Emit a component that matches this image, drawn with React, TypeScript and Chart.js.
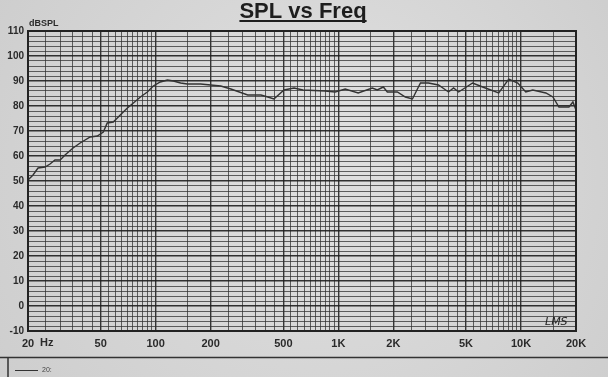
import React, { useEffect, useRef } from "react";
import { Chart, registerables } from "chart.js";

Chart.register(...registerables);

const FREQS = [20, 21.3, 22.7, 24.8, 26.4, 28.1, 30, 31.9, 35.3, 38.6, 43.8, 47.9, 51.7, 54.3, 58.6, 64, 70, 75.5, 82.5, 90, 97, 106, 116, 125, 137, 149, 176, 227, 258, 319, 377, 411, 444, 504, 572, 640, 846, 960, 1090, 1284, 1534, 1634, 1763, 1854, 2104, 2328, 2544, 2815, 3114, 3534, 4010, 4273, 4553, 5434, 6166, 7550, 8570, 9600, 10620, 11600, 13680, 14950, 16130, 18300, 19240, 20000];
const SPL = [50.4, 52.4, 55.2, 55.6, 56.8, 58.4, 58.4, 60.4, 63.2, 65.2, 67.6, 68, 69.6, 73.2, 73.6, 76.4, 79.2, 81.2, 83.6, 85.6, 88, 89.6, 90.4, 90, 89.2, 88.8, 88.8, 88, 86.8, 84.4, 84.4, 83.6, 82.8, 86.4, 87.2, 86.4, 86, 85.6, 86.8, 85.2, 87.2, 86.4, 87.6, 85.6, 85.6, 83.6, 82.8, 89.2, 89.2, 88.4, 85.6, 87.2, 85.6, 89.2, 87.6, 85.2, 90.8, 89.2, 85.6, 86.4, 85.2, 83.6, 79.6, 79.6, 81.6, 78.4];

const X_LABEL_VALUES = [20, 50, 100, 200, 500, 1000, 2000, 5000, 10000, 20000];
const X_LABEL_TEXT = ["20", "50", "100", "200", "500", "1K", "2K", "5K", "10K", "20K"];
const GRID_MULTIPLIERS = [1, 1.5, 2, 2.5, 3, 3.5, 4, 4.5, 5, 5.5, 6, 6.5, 7, 7.5, 8, 8.5, 9, 9.5];
const DECADES = [10, 100, 1000, 10000];
const TITLE = "SPL vs Freq";
const Y_UNIT = "dBSPL";
const X_UNIT = "Hz";
const LEGEND_TEXT = "20:";
const MARK_TEXT = "LMS";

const GRID_FREQS: number[] = [];
DECADES.forEach((d) => GRID_MULTIPLIERS.forEach((m) => {
  const v = Math.round(d * m * 1000) / 1000;
  if (v >= 20 && v <= 20000) GRID_FREQS.push(v);
}));
if (!GRID_FREQS.includes(20000)) GRID_FREQS.push(20000);

const INK = "#2a2a2a";

const decor = {
  id: "decor",
  beforeDraw(chart: any) {
    const { ctx, width, height } = chart;
    ctx.save();
    const g = ctx.createRadialGradient(width * 0.55, height * 0.4, 40, width * 0.5, height * 0.5, width * 0.7);
    g.addColorStop(0, "#dedede");
    g.addColorStop(1, "#cbcbcb");
    ctx.fillStyle = g;
    ctx.fillRect(0, 0, width, height);
    ctx.restore();
  },
  afterDraw(chart: any) {
    const { ctx, chartArea } = chart;
    const { left, right, top, bottom } = chartArea;
    ctx.save();
    // plot border
    ctx.strokeStyle = "#222";
    ctx.lineWidth = 2;
    ctx.strokeRect(left, top, right - left, bottom - top);
    // title
    ctx.fillStyle = "#1e1e1e";
    ctx.font = "bold 22px 'Liberation Sans', Arial, sans-serif";
    ctx.textAlign = "center";
    ctx.textBaseline = "alphabetic";
    const tx = 303;
    ctx.fillText(TITLE, tx, 18);
    const tw = ctx.measureText(TITLE).width;
    ctx.fillRect(tx - tw / 2, 20, tw, 2);
    // unit labels
    ctx.fillStyle = INK;
    ctx.font = "bold 9px 'Liberation Sans', Arial, sans-serif";
    ctx.textAlign = "left";
    ctx.fillText(Y_UNIT, left + 1, 26);
    ctx.font = "bold 11px 'Liberation Sans', Arial, sans-serif";
    ctx.textBaseline = "middle";
    ctx.fillText(X_UNIT, left + 12, bottom + 12);
    // mark
    ctx.font = "italic 11px 'DejaVu Sans', sans-serif";
    ctx.textAlign = "left";
    ctx.fillStyle = "#222";
    ctx.fillText(MARK_TEXT, right - 31, bottom - 9);
    // bottom legend frame
    ctx.strokeStyle = "#333";
    ctx.lineWidth = 1.5;
    ctx.beginPath();
    ctx.moveTo(0, 357.5);
    ctx.lineTo(chart.width, 357.5);
    ctx.moveTo(8, 357.5);
    ctx.lineTo(8, chart.height);
    ctx.stroke();
    ctx.lineWidth = 1;
    ctx.beginPath();
    ctx.moveTo(15, 370.5);
    ctx.lineTo(38, 370.5);
    ctx.stroke();
    ctx.font = "7px 'Liberation Sans', Arial, sans-serif";
    ctx.fillStyle = "#444";
    ctx.textBaseline = "middle";
    ctx.fillText(LEGEND_TEXT, 42, 370.5);
    ctx.restore();
  },
};

export default function App() {
  const ref = useRef<HTMLCanvasElement | null>(null);
  useEffect(() => {
    if (!ref.current) return;
    const chart = new Chart(ref.current, {
      type: "line",
      data: {
        datasets: [
          {
            data: FREQS.map((f, i) => ({ x: f, y: SPL[i] })),
            borderColor: "#333",
            borderWidth: 1.4,
            pointRadius: 0,
            tension: 0,
            fill: false,
          },
        ],
      },
      options: {
        animation: false,
        responsive: true,
        maintainAspectRatio: false,
        layout: { padding: { top: 31, right: 32, left: 0, bottom: 0 } },
        plugins: { legend: { display: false }, tooltip: { enabled: false }, title: { display: false } },
        scales: {
          x: {
            type: "logarithmic",
            min: 20,
            max: 20000,
            afterBuildTicks: (scale: any) => {
              scale.ticks = GRID_FREQS.map((v) => ({ value: v }));
            },
            afterFit: (scale: any) => {
              scale.height = 46;
            },
            grid: {
              drawTicks: false,
              color: (c: any) => (X_LABEL_VALUES.includes(c.tick?.value) ? "rgba(35,35,35,0.9)" : "rgba(50,50,50,0.75)"),
              lineWidth: (c: any) => (X_LABEL_VALUES.includes(c.tick?.value) ? 1.4 : 1),
            },
            border: { display: false },
            ticks: {
              autoSkip: false,
              maxRotation: 0,
              minRotation: 0,
              padding: 6,
              color: INK,
              font: { family: "'Liberation Sans', Arial, sans-serif", size: 11, weight: "bold" },
              callback: (v: any) => {
                const i = X_LABEL_VALUES.indexOf(Number(v));
                return i >= 0 ? X_LABEL_TEXT[i] : "";
              },
            },
          },
          y: {
            min: -10,
            max: 110,
            afterFit: (scale: any) => {
              scale.width = 28;
            },
            grid: {
              drawTicks: false,
              color: (c: any) => (c.tick && c.tick.value % 10 === 0 ? "rgba(30,30,30,0.9)" : "rgba(50,50,50,0.75)"),
              lineWidth: (c: any) => (c.tick && c.tick.value % 10 === 0 ? 1.4 : 1),
            },
            border: { display: false },
            ticks: {
              stepSize: 2,
              autoSkip: false,
              padding: 4,
              color: INK,
              font: { family: "'Liberation Sans', Arial, sans-serif", size: 10, weight: "bold" },
              callback: (v: any) => (Number(v) % 10 === 0 ? String(v) : ""),
            },
          },
        },
      },
      plugins: [decor],
    } as any);
    return () => chart.destroy();
  }, []);
  return (
    <div style={{ position: "absolute", left: 0, top: 0, width: 608, height: 377 }}>
      <canvas ref={ref} />
    </div>
  );
}
